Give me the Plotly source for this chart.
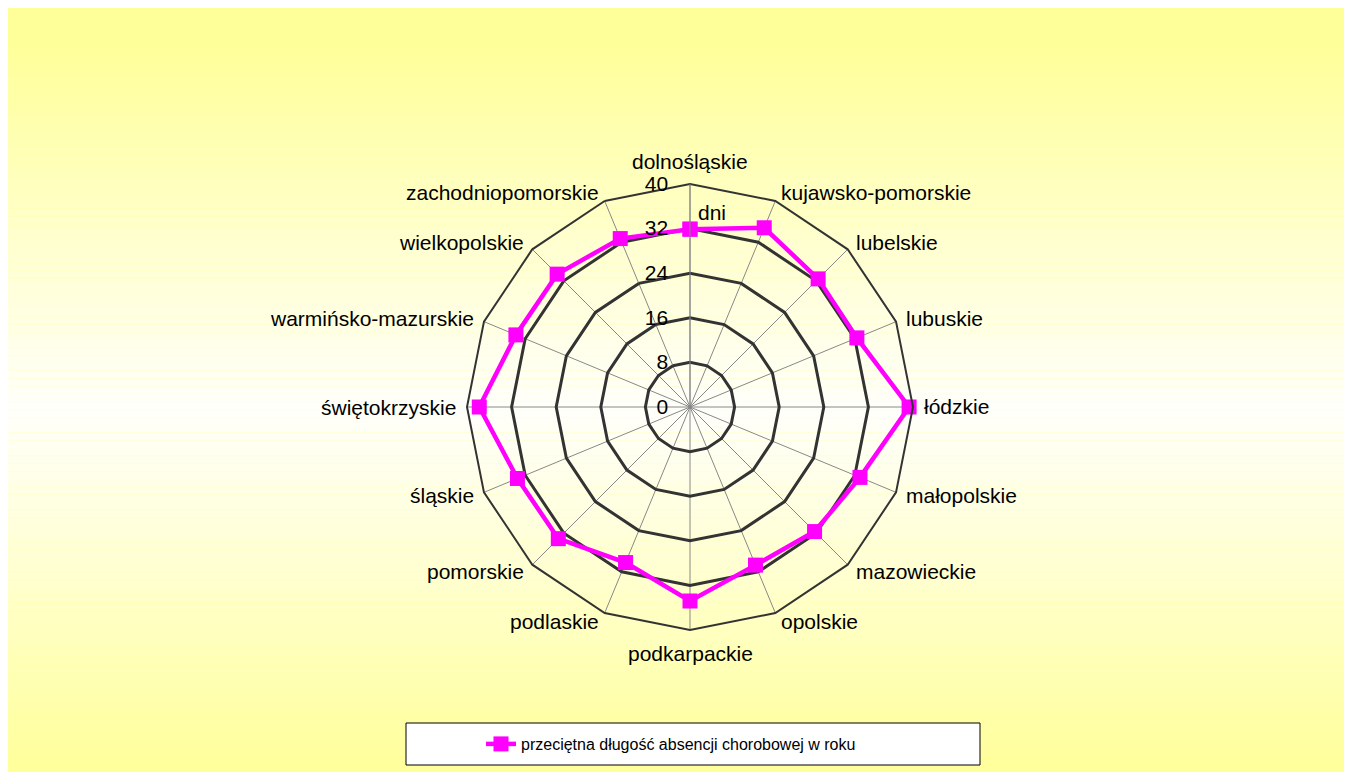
import math
import plotly.graph_objects as go

# average sick-leave length per voivodeship (days per year)
regions = ["dolnośląskie", "kujawsko-pomorskie", "lubelskie", "lubuskie", "łódzkie",
           "małopolskie", "mazowieckie", "opolskie", "podkarpackie", "podlaskie",
           "pomorskie", "śląskie", "świętokrzyskie", "warmińsko-mazurskie",
           "wielkopolskie", "zachodniopomorskie"]
days = [31.9, 34.8, 32.5, 32.4, 39.3, 33.0, 31.6, 30.7, 34.8, 30.2,
        33.4, 33.5, 37.8, 33.8, 33.7, 32.7]
radial_ticks = [0, 8, 16, 24, 32, 40]
series_name = "przeciętna długość absencji chorobowej w roku"
unit_label = "dni"

W, H = 1352, 772
FONT = "Liberation Sans, Arial, sans-serif"

fig = go.Figure()
fig.add_trace(go.Scatterpolar(
    r=days + days[:1],
    theta=regions + regions[:1],
    mode="lines+markers",
    name=series_name,
    line=dict(color="#FF00FF", width=4.5),
    marker=dict(symbol="square", size=15, color="#FF00FF"),
))

# yellow -> white -> yellow background, made of thin horizontal bands
shapes = []
n_bands = 100
for i in range(n_bands):
    t = (i + 0.5) / n_bands
    w = 1 - abs(t - 0.52) * 2.1
    w = max(0.0, min(1.0, w))
    b = int(153 + (252 - 153) * w)
    shapes.append(dict(
        type="rect", xref="paper", yref="paper", layer="below",
        x0=0, x1=1,
        y0=1 - i / n_bands, y1=1 - (i + 1) / n_bands,
        fillcolor=f"rgb(255,255,{b})", line=dict(width=0),
    ))
# legend box
shapes.append(dict(
    type="rect", xref="paper", yref="paper", layer="below",
    x0=398 / W, x1=972 / W, y0=1 - 757 / H, y1=1 - 715 / H,
    fillcolor="white", line=dict(color="black", width=1),
))

cx, cy, rad = 682, 399, 223

# category labels placed just outside the outer polygon, Excel style
annotations = []
n = len(regions)
for k, name in enumerate(regions):
    a = 2 * math.pi * k / n
    sx, sy = math.sin(a), math.cos(a)
    px = cx + rad * sx
    py = cy - rad * sy
    if abs(sx) < 0.1:
        xanchor, xshift, yshift = "center", 0, 23 if sy > 0 else -23
    else:
        xanchor = "left" if sx > 0 else "right"
        xshift, yshift = 9 * sx, 9 * sy
    annotations.append(dict(
        text=name, x=px / W, y=1 - py / H, xref="paper", yref="paper",
        xanchor=xanchor, yanchor="middle", xshift=xshift, yshift=yshift,
        showarrow=False, font=dict(size=21),
    ))
annotations.append(dict(
    text=unit_label, x=(cx + 22) / W, y=1 - 204 / H, xref="paper", yref="paper",
    xanchor="center", yanchor="middle", showarrow=False, font=dict(size=21),
))

fig.update_layout(
    width=W, height=H,
    margin=dict(l=0, r=0, t=0, b=0),
    paper_bgcolor="#FFFF99",
    font=dict(family=FONT, size=21, color="black"),
    shapes=shapes,
    showlegend=True,
    legend=dict(x=473 / W, xanchor="left", y=1 - 736 / H, yanchor="middle",
                bgcolor="rgba(0,0,0,0)", font=dict(size=16)),
    polar=dict(
        domain=dict(x=[(cx - rad) / W, (cx + rad) / W],
                    y=[1 - (cy + rad) / H, 1 - (cy - rad) / H]),
        bgcolor="rgba(0,0,0,0)",
        gridshape="linear",
        angularaxis=dict(
            rotation=90, direction="clockwise",
            showline=True, linecolor="#333333", linewidth=2,
            showgrid=True, gridcolor="#888888", gridwidth=1,
            ticks="", showticklabels=False,
        ),
        radialaxis=dict(
            range=[0, 40], tickvals=radial_ticks, angle=90, side="counterclockwise",
            showline=True, linecolor="#888888", linewidth=1,
            showgrid=True, gridcolor="#333333", gridwidth=2.5,
            ticks="outside", ticklen=14, tickcolor="rgba(0,0,0,0)",
            tickangle=90, tickfont=dict(size=21),
        ),
    ),
    annotations=annotations,
)

fig.write_html("out.html")
